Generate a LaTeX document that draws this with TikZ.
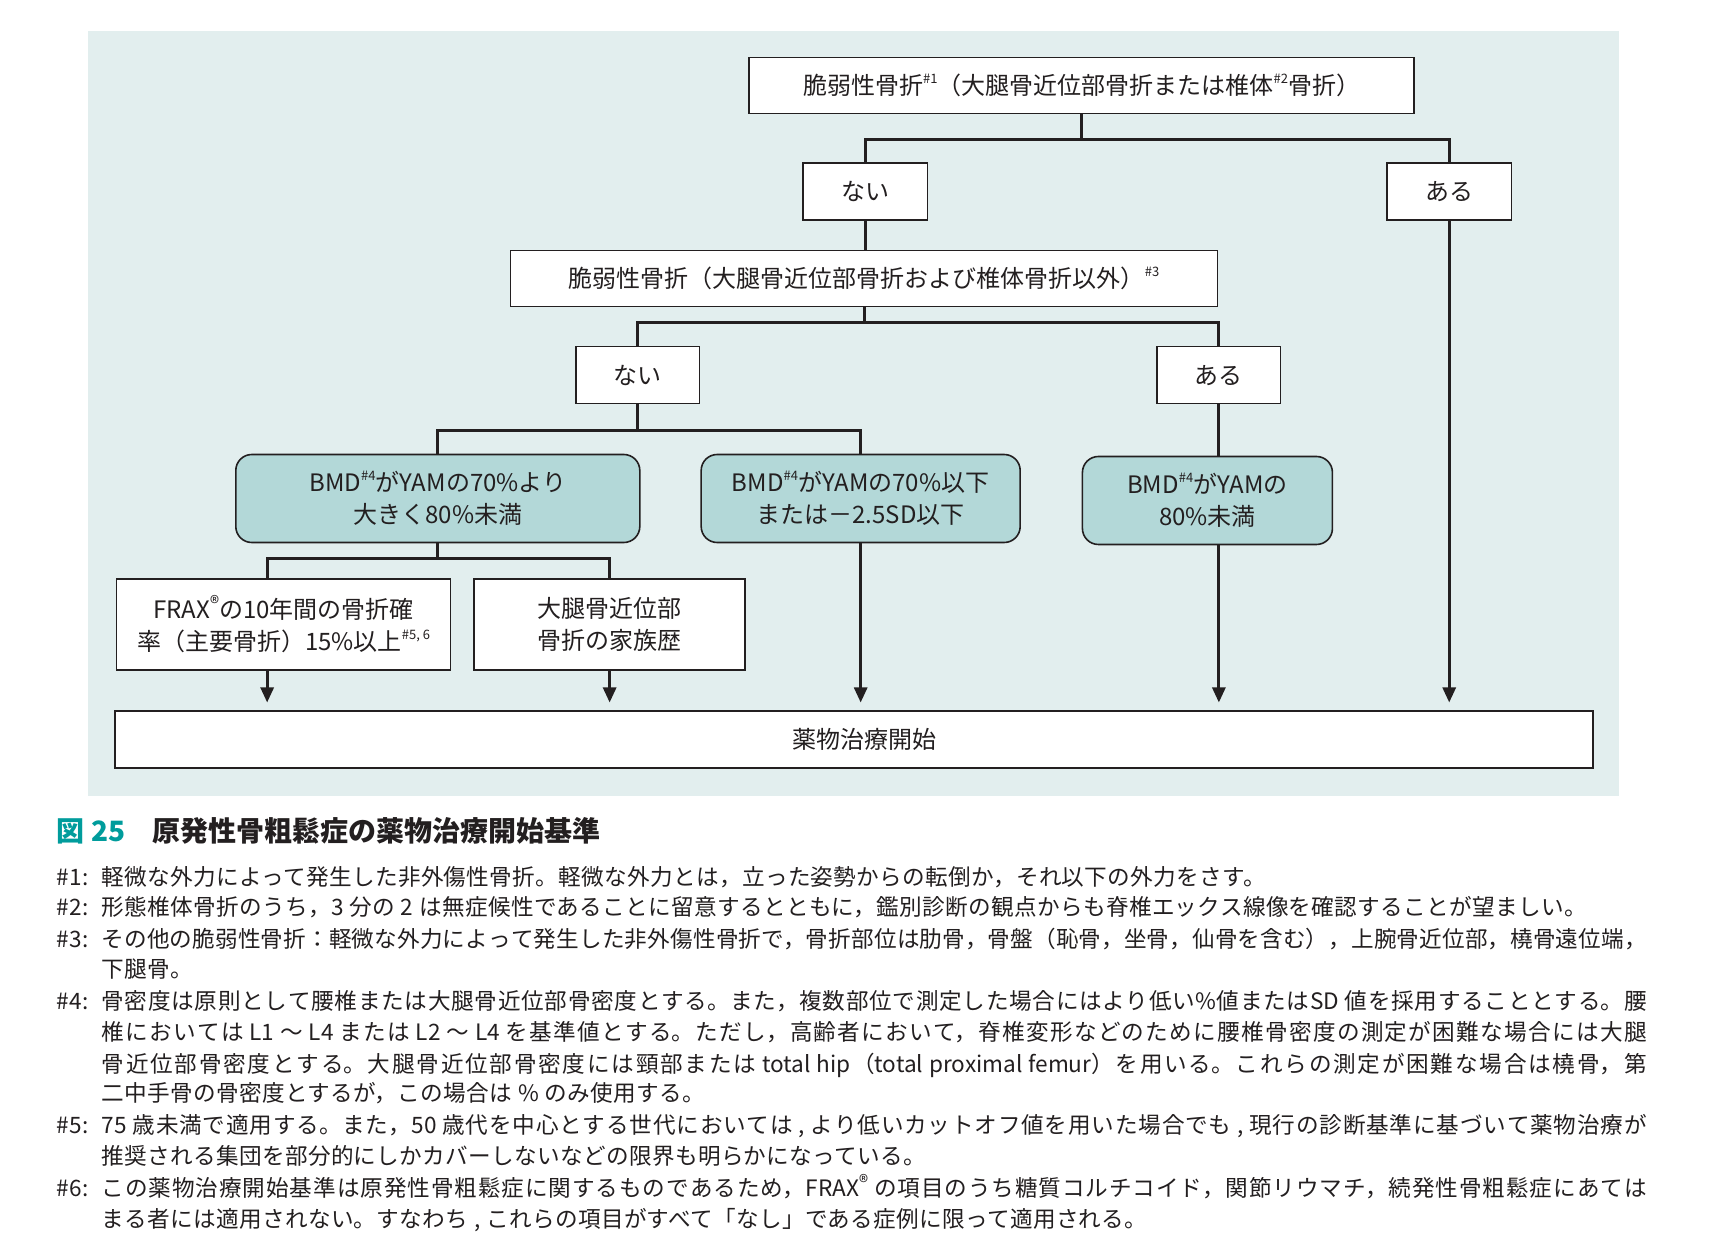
\documentclass[tikz,border=0pt]{standalone}
\usepackage{fontspec}
\setmainfont{Noto Sans CJK JP}
\usetikzlibrary{arrows.meta}
\XeTeXlinebreaklocale "ja"
\XeTeXlinebreakskip=0pt plus 8pt
\definecolor{panelbg}{HTML}{E2EEEE}
\definecolor{tealfill}{HTML}{B3D8D8}
\definecolor{ink}{HTML}{231F20}
\definecolor{capteal}{HTML}{009C9C}
\newcommand\supmark[1]{\raisebox{0.45em}{\fontsize{13}{13}\selectfont #1}}
\newcommand\regmark{\raisebox{0.32em}{\fontsize{19}{19}\selectfont ®}}
\newcommand\fnsetup{\fontsize{22.6}{31}\selectfont\spaceskip=0.26em\relax}
\newcommand\nline[1]{{\addfontfeature{LetterSpace=1.5}#1}}
\newcommand\jline[1]{\parbox[b]{1545pt}{\fnsetup\XeTeXlinebreakskip=0pt plus 8pt\relax
  \spaceskip=0.26em\relax\xspaceskip=0.26em\relax\parfillskip=0pt\relax\tolerance=9999\relax\noindent #1}}
\tikzset{
  wbox/.style={draw=ink, line width=1.6pt, fill=white, inner sep=0pt, align=center,
    font=\fontsize{24}{32}\selectfont, text=ink},
  tbox/.style={draw=ink, line width=1.6pt, fill=tealfill, rounded corners=16pt, inner sep=0pt,
    align=center, font=\fontsize{24}{32}\selectfont, text=ink},
  conn/.style={draw=ink, line width=2.8pt},
  arr/.style={conn, -{Triangle[length=15pt,width=13pt]}, shorten >=7.5pt},
  fn/.style={anchor=base west, inner sep=0pt, text=ink, font=\fnsetup},
  captxt/.style={anchor=base west, inner sep=0pt, font=\fontsize{28}{28}\selectfont\bfseries}
}
\begin{document}
\begin{tikzpicture}[x=0.995pt,y=-0.995pt]
\useasboundingbox (0,0) rectangle (1718.6,1262.3);
\fill[white] (0,0) rectangle (1718.6,1262.3);
\fill[panelbg] (88,31) rectangle (1627,800);

% boxes
\node[wbox, minimum width=665pt, minimum height=56pt] (top) at (1087,86)
  {脆弱性骨折\supmark{\#1}（大腿骨近位部骨折または椎体\supmark{\#2}骨折）};
\node[wbox, minimum width=124.5pt, minimum height=57pt] (nai1) at (869.5,192.5) {ない};
\node[wbox, minimum width=124.5pt, minimum height=57pt] (aru1) at (1456.5,192.5) {ある};
\node[wbox, minimum width=707pt, minimum height=56pt] (box2) at (868.5,280)
  {脆弱性骨折（大腿骨近位部骨折および椎体骨折以外）\supmark{\#3}};
\node[wbox, minimum width=123.5pt, minimum height=57pt] (nai2) at (641,377) {ない};
\node[wbox, minimum width=123.5pt, minimum height=57pt] (aru2) at (1225,377) {ある};
\node[tbox, minimum width=404pt, minimum height=88pt] (bmd1) at (440,501)
  {BMD\supmark{\#4}がYAMの70\%より\\大きく80\%未満};
\node[tbox, minimum width=319pt, minimum height=88pt] (bmd2) at (865,501)
  {BMD\supmark{\#4}がYAMの70\%以下\\または－2.5SD以下};
\node[tbox, minimum width=250pt, minimum height=88pt] (bmd3) at (1213.5,503)
  {BMD\supmark{\#4}がYAMの\\80\%未満};
\node[wbox, minimum width=334pt, minimum height=91pt] (frax) at (285,627.5)
  {FRAX\regmark の10年間の骨折確\\率（主要骨折）15\%以上\supmark{\#5, 6}};
\node[wbox, minimum width=271pt, minimum height=91pt] (daitai) at (612.7,627.5)
  {大腿骨近位部\\骨折の家族歴};
\node[wbox, minimum width=1478pt, minimum height=57pt] (final) at (858.5,743) {\hspace*{20pt}薬物治療開始};

% junctions
\coordinate (j1) at (1087,140);
\coordinate (j2) at (868.5,324.4);
\coordinate (j3) at (641,433);
\coordinate (j4) at (440,561);
\coordinate (j4l) at (268.5,561);

% connectors
\draw[conn] (top.south) -- (j1);
\draw[conn] (nai1.north) |- (j1) -| (aru1.north);
\draw[conn] (nai1.south) -- (nai1.south |- box2.north);
\draw[conn] (box2.south) -- (j2);
\draw[conn] (nai2.north) |- (j2) -| (aru2.north);
\draw[conn] (nai2.south) -- (j3);
\draw[conn] (bmd1.north) |- (j3) -| (bmd2.north);
\draw[conn] (aru2.south) -- (aru2.south |- bmd3.north);
\draw[conn] (bmd1.south) -- (j4);
\draw[conn] (j4l |- frax.north) -- (j4l) -- (j4) -| (daitai.north);

% arrows
\draw[arr] (j4l |- frax.south) -- (j4l |- final.north);
\draw[arr] (daitai.south) -- (daitai.south |- final.north);
\draw[arr] (bmd2.south) -- (bmd2.south |- final.north);
\draw[arr] (aru2 |- bmd3.south) -- (aru2 |- final.north);
\draw[arr] (aru1.south) -- (aru1.south |- final.north);

% caption
\node[captxt, text=capteal] (fignum) at (57,846) {図 25};
\node[captxt, text=ink] (figtitle) at (153,846) {原発性骨粗鬆症の薬物治療開始基準};

% footnotes
\node[fn] (n1) at (57,889.5) {\#1:};
\node[fn] (t1) at (102,889.5) {\nline{軽微な外力によって発生した非外傷性骨折。軽微な外力とは，立った姿勢からの転倒か，それ以下の外力をさす。}};
\node[fn] (n2) at (57,920.5) {\#2:};
\node[fn] (t2) at (102,920.5) {\nline{形態椎体骨折のうち，3 分の 2 は無症候性であることに留意するとともに，鑑別診断の観点からも脊椎エックス線像を確認することが望ましい。}};
\node[fn] (n3) at (57,952.5) {\#3:};
\node[fn] (t3a) at (102,952.5) {\jline{その他の脆弱性骨折：軽微な外力によって発生した非外傷性骨折で，骨折部位は肋骨，骨盤（恥骨，坐骨，仙骨を含む），上腕骨近位部，橈骨遠位端，}};
\node[fn] (t3b) at (102,982.5) {\nline{下腿骨。}};
\node[fn] (n4) at (57,1014.5) {\#4:};
\node[fn] (t4a) at (102,1014.5) {\jline{骨密度は原則として腰椎または大腿骨近位部骨密度とする。また，複数部位で測定した場合にはより低い\%値またはSD 値を採用することとする。腰}};
\node[fn] (t4b) at (102,1045.5) {\jline{椎においては L1 ～ L4 または L2 ～ L4 を基準値とする。ただし，高齢者において，脊椎変形などのために腰椎骨密度の測定が困難な場合には大腿}};
\node[fn] (t4c) at (102,1077.5) {\jline{骨近位部骨密度とする。大腿骨近位部骨密度には頸部または total hip（total proximal femur）を用いる。これらの測定が困難な場合は橈骨，第}};
\node[fn] (t4d) at (102,1107.5) {\nline{二中手骨の骨密度とするが，この場合は \% のみ使用する。}};
\node[fn] (n5) at (57,1139.5) {\#5:};
\node[fn] (t5a) at (102,1139.5) {\jline{75 歳未満で適用する。また，50 歳代を中心とする世代においては , より低いカットオフ値を用いた場合でも , 現行の診断基準に基づいて薬物治療が}};
\node[fn] (t5b) at (102,1170.5) {\nline{推奨される集団を部分的にしかカバーしないなどの限界も明らかになっている。}};
\node[fn] (n6) at (57,1202.5) {\#6:};
\node[fn] (t6a) at (102,1202.5) {\jline{この薬物治療開始基準は原発性骨粗鬆症に関するものであるため，FRAX\regmark\ の項目のうち糖質コルチコイド，関節リウマチ，続発性骨粗鬆症にあては}};
\node[fn] (t6b) at (102,1233.5) {\nline{まる者には適用されない。すなわち , これらの項目がすべて「なし」である症例に限って適用される。}};
\end{tikzpicture}
\end{document}
